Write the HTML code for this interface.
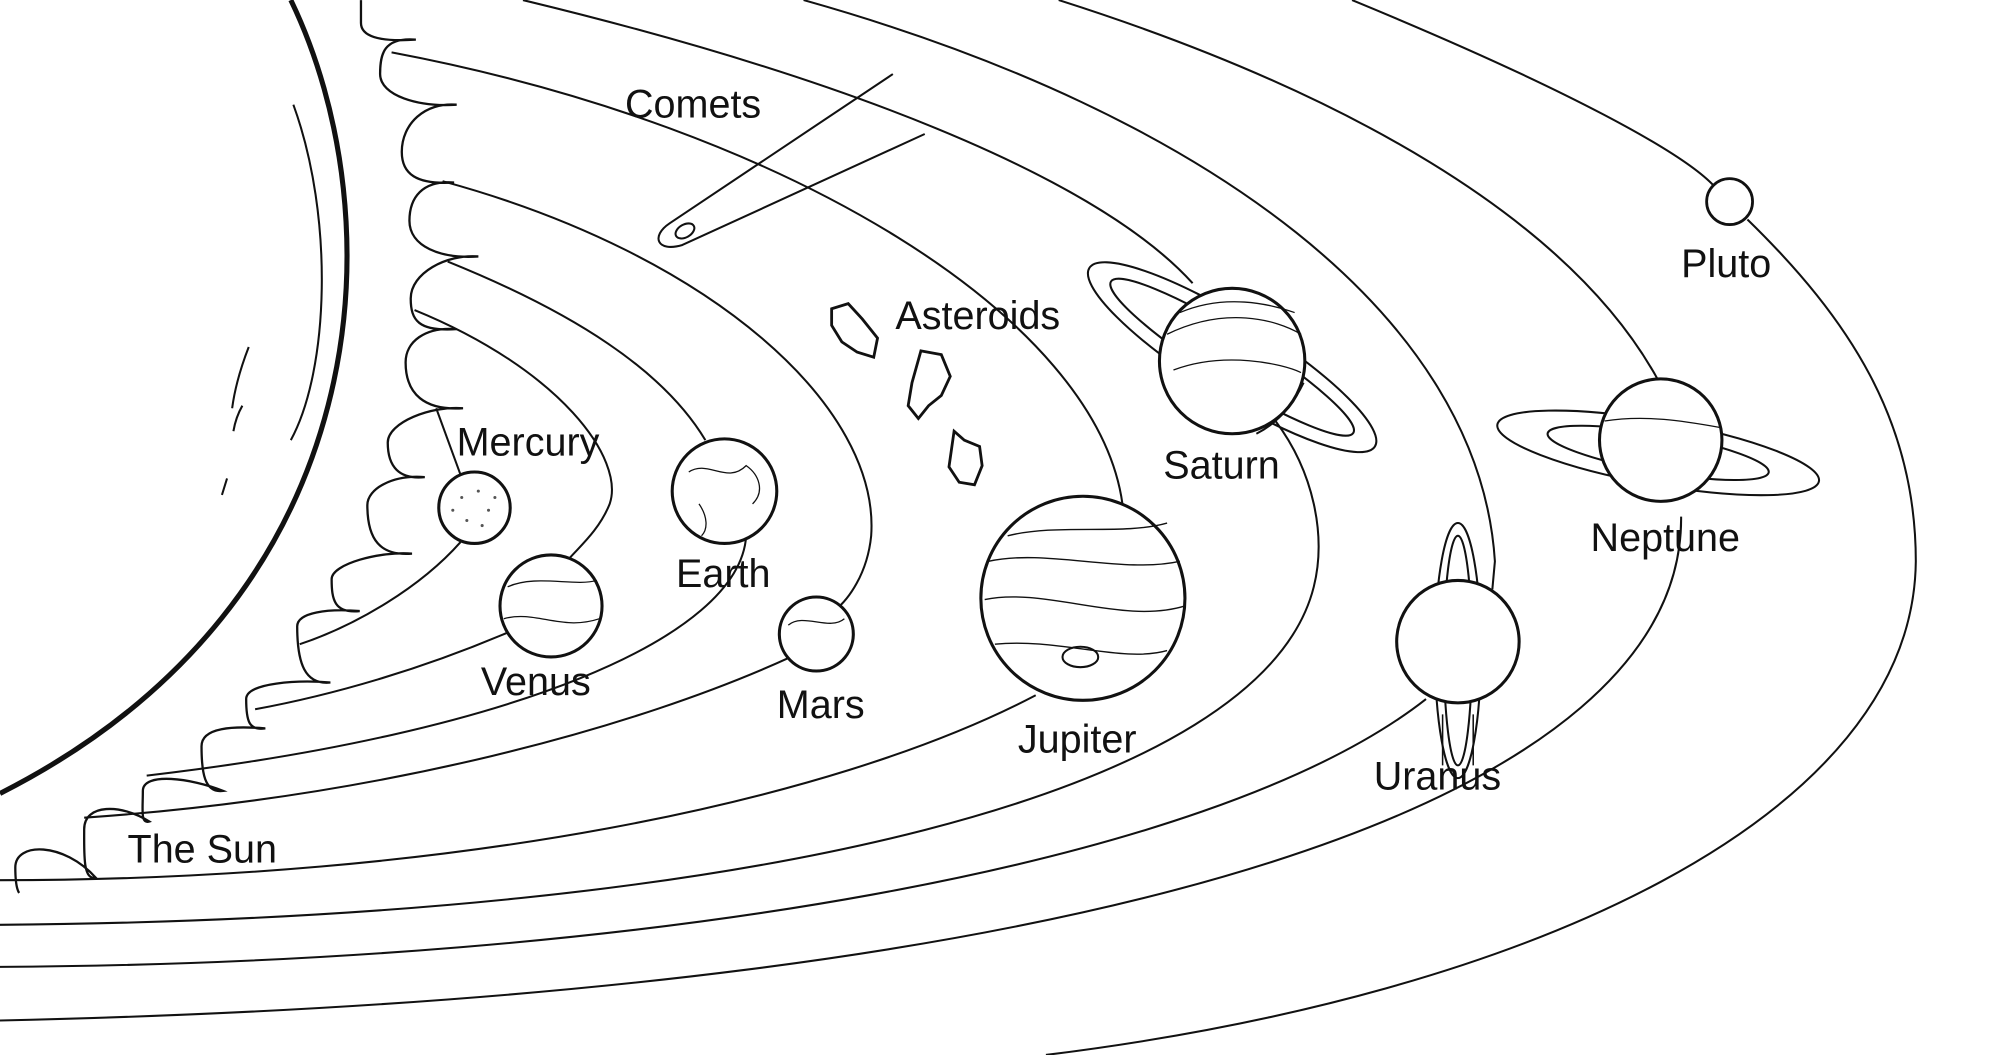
<!DOCTYPE html>
<html><head><meta charset="utf-8"><style>
html,body{margin:0;padding:0;background:#fff;}
svg{display:block;}
text{font-family:"Liberation Sans",sans-serif;font-size:31px;fill:#111;}
</style></head><body>
<svg width="2000" height="1055" viewBox="0 0 1568 827" xmlns="http://www.w3.org/2000/svg">
<rect x="0" y="0" width="1568" height="827" fill="#fff"/>
<g fill="none" stroke="#111" stroke-width="1.6">
<!-- Sun -->
<path d="M228,0 C310,170 300,470 0,622" stroke-width="4"/>
<path d="M230,82 C262,170 258,290 228,345"/>
<path d="M195,272 C188,290 184,305 182,320 M190,318 C186,325 184,332 183,338 M178,375 L174,388"/>
<!-- flares -->
<path d="M283,0 L283,18 C283,28 296,33 326,31
C301,29 298,42 298,58 C298,75 328,84 358,82
C333,80 315,97 315,119 C315,136 326,145 356,143
C331,141 321,155 321,173 C321,193 345,203 375,201
C350,199 322,214 322,234 C322,251 328,260 358,258
C333,256 318,268 318,284 C318,309 333,322 363,320
C338,318 304,331 304,347 C304,366 313,376 333,374
C308,372 288,383 288,396 C288,423 298,436 323,434
C298,432 260,442 260,454 C260,470 262,481 282,479
C257,477 233,480 233,491 C233,520 239,537 259,535
C234,533 193,535 193,548 C193,565 195,573 208,571
C183,569 158,570 158,585 C158,605 160,622 175,620
C150,610 112,605 112,620 C112,635 110,646 117,644
C95,630 66,630 66,650 C66,670 65,690 75,688
C50,660 12,660 12,680 C12,690 13,697 15,700" stroke-width="1.8"/>
<!-- Mercury -->
<path d="M342,320 L361,372"/>
<path d="M325,243 C440,290 490,360 478,395 C470,415 455,428 447,437"/>
<path d="M361,425 C330,460 280,490 235,505"/>
<!-- Venus -->
<path d="M400,495 C330,525 260,545 200,556"/>
<!-- Earth -->
<path d="M351,205 C450,245 520,290 553,345"/>
<path d="M585,420 C580,500 400,575 115,608"/>
<!-- Mars -->
<path d="M347,142 C560,200 690,320 683,420 C680,450 665,470 655,478"/>
<path d="M620,515 C500,570 300,625 66,641"/>
<!-- Jupiter -->
<path d="M307,41 C620,100 860,250 880,395"/>
<path d="M812,545 C650,630 350,690 0,690"/>
<!-- Saturn -->
<path d="M410,0 C700,70 870,150 935,222"/>
<path d="M1000,330 C1030,370 1040,420 1030,460 C990,620 600,720 0,725"/>
<!-- Uranus -->
<path d="M630,0 C950,90 1160,250 1172,440 L1170,462"/>
<path d="M1118,548 C950,680 500,755 0,758"/>
<!-- Neptune -->
<path d="M830,0 C1050,70 1230,170 1300,298"/>
<path d="M1318,405 C1320,620 900,780 0,800"/>
<!-- Pluto -->
<path d="M1060,0 C1230,70 1320,120 1344,146 M1370,172 C1450,250 1502,330 1502,440 C1500,640 1200,780 820,827"/>
<!-- comet -->
<path d="M700,58 L525,175 C510,185 515,198 535,192 L725,105"/>
<ellipse cx="537" cy="181" rx="8" ry="5" transform="rotate(-30 537 181)"/>
<!-- asteroids -->
<path d="M652,242 L665,238 L676,250 L688,265 L685,280 L672,276 L660,268 L652,255 Z" stroke-width="2.2"/>
<path d="M722,275 L738,278 L745,295 L738,310 L728,318 L720,328 L712,318 L715,300 Z" stroke-width="2.2"/>
<path d="M748,338 L756,345 L768,350 L770,365 L764,380 L752,378 L744,366 L746,352 Z" stroke-width="2.2"/>
<!-- Saturn -->
<ellipse cx="966" cy="280" rx="132" ry="30" transform="rotate(32 966 280)"/>
<ellipse cx="966" cy="280" rx="112" ry="19" transform="rotate(32 966 280)"/>
<circle cx="966" cy="283" r="57" fill="#fff" stroke-width="2.4"/>
<path d="M1022,300 C1010,325 995,335 985,340" />
<path d="M915,262 C960,240 1000,250 1020,262 M920,290 C960,275 1005,285 1020,292 M925,245 C960,230 995,238 1015,245" stroke-width="1"/>
<!-- Jupiter -->
<circle cx="849" cy="469" r="80" stroke-width="2.4"/>
<path d="M775,440 C820,430 880,450 925,440 M772,470 C820,460 880,490 929,475 M780,505 C830,500 880,520 915,510 M790,420 C830,410 880,420 915,410" stroke-width="1.1"/>
<ellipse cx="847" cy="515" rx="14" ry="8"/>
<!-- Uranus -->
<ellipse cx="1143" cy="510" rx="18" ry="100"/>
<ellipse cx="1143" cy="510" rx="11" ry="90"/>
<circle cx="1143" cy="503" r="48" fill="#fff" stroke-width="2.4"/>
<path d="M1131,560 L1131,600 M1155,560 L1155,600" stroke-width="1.2"/>
<!-- Neptune -->
<ellipse cx="1300" cy="355" rx="128" ry="25" transform="rotate(10 1300 355)"/>
<ellipse cx="1300" cy="355" rx="88" ry="15" transform="rotate(10 1300 355)"/>
<circle cx="1302" cy="345" r="48" fill="#fff" stroke-width="2.4"/>
<path d="M1258,330 C1290,325 1320,330 1348,335" stroke-width="1"/>
<!-- Pluto -->
<circle cx="1356" cy="158" r="18" stroke-width="2.2"/>
<!-- Mercury -->
<circle cx="372" cy="398" r="28" stroke-width="2.4"/>
<!-- Venus -->
<circle cx="432" cy="475" r="40" fill="#fff" stroke-width="2.4"/>
<path d="M398,460 C420,450 450,460 468,455 M395,485 C420,478 440,495 470,485" stroke-width="1"/>
<!-- Earth -->
<circle cx="568" cy="385" r="41" fill="#fff" stroke-width="2.4"/>
<path d="M540,370 C555,360 570,380 585,365 C595,372 600,385 590,395 M548,395 C555,405 555,415 550,420" stroke-width="1"/>
<!-- Mars -->
<circle cx="640" cy="497" r="29" fill="#fff" stroke-width="2.4"/>
<path d="M618,490 C630,480 650,495 662,485" stroke-width="1"/>
</g>
<g fill="#555">
<circle cx="362" cy="390" r="1.2"/><circle cx="375" cy="385" r="1.2"/><circle cx="383" cy="400" r="1.2"/><circle cx="366" cy="408" r="1.2"/><circle cx="378" cy="412" r="1.2"/><circle cx="355" cy="400" r="1.2"/><circle cx="388" cy="390" r="1.2"/>
</g>
<text x="490" y="92">Comets</text>
<text x="702" y="258">Asteroids</text>
<text x="358" y="357">Mercury</text>
<text x="530" y="460">Earth</text>
<text x="377" y="545">Venus</text>
<text x="609" y="563">Mars</text>
<text x="912" y="375">Saturn</text>
<text x="798" y="590">Jupiter</text>
<text x="1077" y="619">Uranus</text>
<text x="1247" y="432">Neptune</text>
<text x="1318" y="217">Pluto</text>
<text x="100" y="676">The Sun</text>
</svg>
</body></html>
